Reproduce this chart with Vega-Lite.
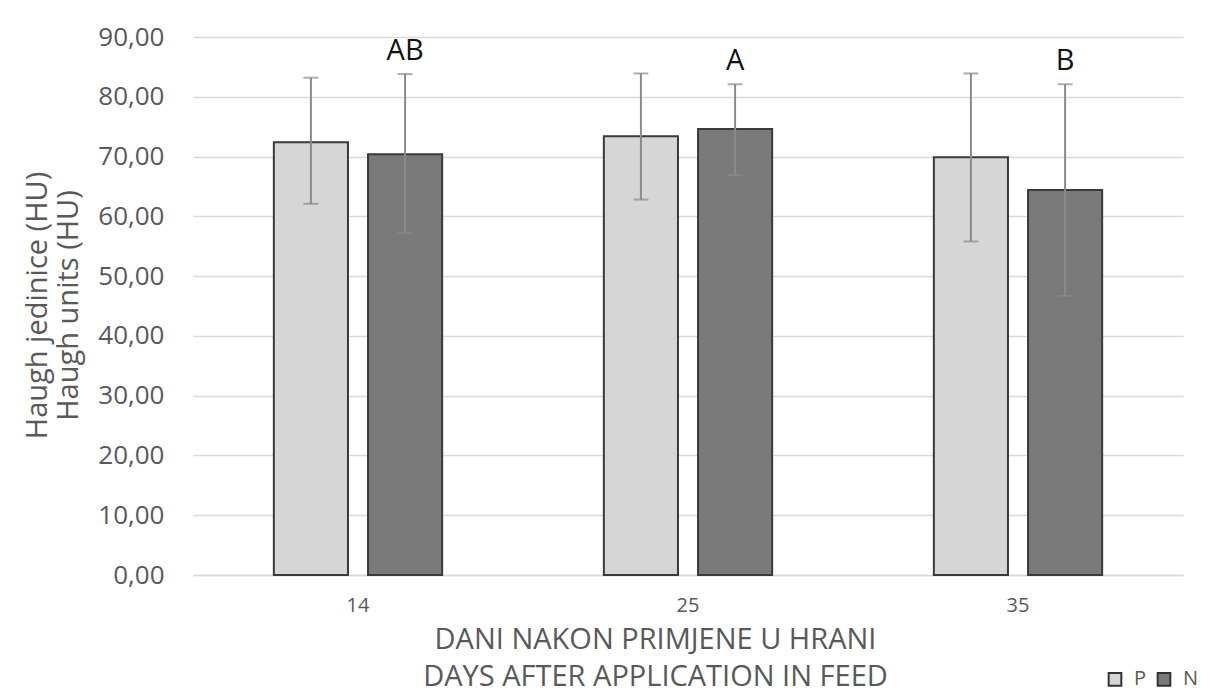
{
  "$schema": "https://vega.github.io/schema/vega-lite/v6.json",
  "autosize": "none",
  "width": 990,
  "height": 538,
  "padding": {"left": 193, "top": 37, "right": 28, "bottom": 121},
  "background": "white",
  "config": {"view": {"stroke": null}},
  "data": {"values": [
    {"day": "14", "group": "P", "mean": 72.4, "lo": 62.1, "hi": 83.2, "letter": ""},
    {"day": "14", "group": "N", "mean": 70.4, "lo": 57.2, "hi": 83.8, "letter": "AB"},
    {"day": "25", "group": "P", "mean": 73.4, "lo": 62.8, "hi": 83.9, "letter": ""},
    {"day": "25", "group": "N", "mean": 74.6, "lo": 66.9, "hi": 82.1, "letter": "A"},
    {"day": "35", "group": "P", "mean": 69.9, "lo": 55.8, "hi": 83.9, "letter": ""},
    {"day": "35", "group": "N", "mean": 64.4, "lo": 46.7, "hi": 82.1, "letter": "B"}
  ]},
  "encoding": {
    "x": {
      "field": "day", "type": "nominal", "sort": ["14", "25", "35"],
      "scale": {"paddingInner": 0.49, "paddingOuter": 0.245},
      "axis": {
        "title": ["DANI NAKON PRIMJENE U HRANI", "DAYS AFTER APPLICATION IN FEED"],
        "titleFont": "Open Sans, sans-serif",
        "titleFontSize": 29, "titleFontWeight": "normal", "titleColor": "#595959",
        "titleLineHeight": 37, "titleX": 462, "titleY": 64, "titleBaseline": "middle", "titleAlign": "center", "titleAnchor": null,
        "labelAngle": 0, "labelFont": "Open Sans, sans-serif", "labelFontSize": 20,
        "labelColor": "#595959", "labelPadding": 20, "ticks": false,
        "domainColor": "#d9d9d9", "domainWidth": 1.5
      }
    },
    "xOffset": {"field": "group", "type": "nominal", "sort": ["P", "N"], "scale": {"paddingInner": 0.213, "paddingOuter": 0}}
  },
  "layer": [
    {
      "mark": {"type": "bar", "strokeWidth": 2, "stroke": "#3a3a3a"},
      "encoding": {
        "y": {
          "field": "mean", "type": "quantitative",
          "scale": {"domain": [0, 90], "nice": false},
          "axis": {
            "values": [0, 10, 20, 30, 40, 50, 60, 70, 80, 90],
            "labelExpr": "replace(format(datum.value, '.2f'), '.', ',')",
            "labelFont": "Open Sans, sans-serif", "labelFontSize": 26, "labelColor": "#595959",
            "labelPadding": 29, "ticks": false, "domain": false,
            "gridColor": "#d9d9d9", "gridWidth": 1.5,
            "title": ["Haugh jedinice (HU)", "Haugh units (HU)"],
            "titleFont": "Open Sans, sans-serif", "titleFontSize": 29, "titleFontWeight": "normal",
            "titleColor": "#595959", "titleLineHeight": 31,
            "titleX": -156, "titleY": 268, "titleBaseline": "middle", "titleAlign": "center", "titleAnchor": null
          }
        },
        "fill": {
          "field": "group", "type": "nominal", "sort": ["P", "N"],
          "scale": {"domain": ["P", "N"], "range": ["#d6d6d6", "#7a7a7a"]},
          "legend": {
            "title": null, "orient": "none", "direction": "horizontal",
            "legendX": 912, "legendY": 632,
            "symbolType": "square", "symbolSize": 160, "symbolStrokeColor": "#333333", "symbolStrokeWidth": 2,
            "labelFont": "Open Sans, sans-serif", "labelFontSize": 20, "labelColor": "#595959",
            "columnPadding": 6, "labelOffset": 9
          }
        }
      }
    },
    {
      "mark": {"type": "rule", "color": "#8a8a8a", "strokeWidth": 2},
      "encoding": {
        "y": {"field": "lo", "type": "quantitative"},
        "y2": {"field": "hi"}
      }
    },
    {
      "mark": {"type": "tick", "color": "#8a8a8a", "thickness": 2, "size": 15},
      "encoding": {"y": {"field": "hi", "type": "quantitative"}}
    },
    {
      "mark": {"type": "tick", "color": "#8a8a8a", "thickness": 2, "size": 15},
      "encoding": {"y": {"field": "lo", "type": "quantitative"}}
    },
    {
      "transform": [{"filter": "datum.letter != ''"}],
      "mark": {"type": "text", "baseline": "bottom", "dy": -8, "font": "Open Sans, sans-serif", "fontSize": 29, "color": "#111111"},
      "encoding": {
        "y": {"field": "hi", "type": "quantitative"},
        "text": {"field": "letter"}
      }
    }
  ]
}
